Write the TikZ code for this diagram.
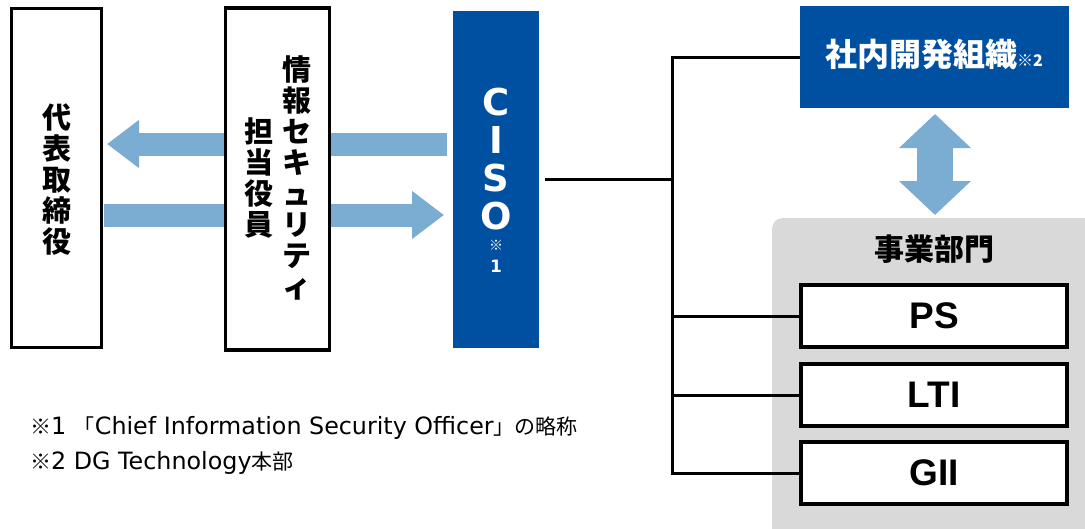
\documentclass[tikz,border=0pt]{standalone}
\usepackage{fontspec}
\setmainfont{Liberation Sans}
\newfontfamily\jp{Noto Sans CJK JP}
\newfontfamily\dv{DejaVu Sans}
\usetikzlibrary{arrows.meta}
\definecolor{cisoblue}{RGB}{0,80,162}
\definecolor{arrowblue}{RGB}{123,173,211}
\definecolor{graybg}{RGB}{217,217,217}
\newcommand\jpn[1]{{\jp\fontsize{21}{24}\selectfont #1}}
\begin{document}
\begin{tikzpicture}[x=1pt,y=-1pt,
  wbox/.style={draw=black,line width=3.2pt,fill=white,inner sep=0pt},
  bbox/.style={fill=cisoblue,inner sep=0pt},
  vtext/.style={align=center,inner sep=0pt,font=\jp\bfseries\fontsize{29}{31}\selectfont},
  bigarrow/.style={arrowblue,line width=23pt},
  conn/.style={draw=black,line width=3pt},
  bizlabel/.style={font=\bfseries\fontsize{37}{40}\selectfont},
  note/.style={anchor=west,inner sep=0pt,font=\dv\fontsize{23.8}{26}\selectfont}]
\useasboundingbox (0,0) rectangle (1085,528);

% blue arrows between left boxes (drawn first, behind middle box)
\coordinate (la-s) at (447,144);
\coordinate (la-e) at (107,144);
\coordinate (ra-s) at (104,215);
\coordinate (ra-e) at (444,215);
\draw[bigarrow,-{Triangle[length=32pt,width=46pt]}] (la-s) -- (la-e);
\draw[bigarrow,-{Triangle[length=32pt,width=46pt]}] (ra-s) -- (ra-e);

% left boxes
\node[wbox,minimum width=90pt,minimum height=339pt] (ceo) at (56.5,178) {};
\node[vtext] (ceot) at (57,180) {代\\表\\取\\締\\役};
\node[wbox,minimum width=104pt,minimum height=342pt] (officer) at (277.5,179) {};
\node[vtext] (offr) at (297,178) {情\\報\\セ\\キ\\ュ\\リ\\テ\\ィ};
\node[vtext] (offl) at (259,178) {担\\当\\役\\員};

% CISO
\node[bbox,minimum width=86pt,minimum height=337pt] (ciso) at (496,179) {};
\node[align=center,inner sep=0pt,text=white,font=\dv\bfseries\fontsize{37}{37.7}\selectfont] (cisot) at (496,159) {C\\I\\S\\O};
\node[inner sep=0pt,text=white,font=\jp\fontsize{14}{15}\selectfont] (cisomark) at (496,245) {※};
\node[inner sep=0pt,text=white,font=\dv\bfseries\fontsize{17}{18}\selectfont] (cisonum) at (496,266) {1};

% internal dev org
\node[bbox,minimum width=269pt,minimum height=102pt] (dev) at (934.5,57) {};
\node[inner sep=0pt,text=white,font=\jp\bfseries\fontsize{32}{34}\selectfont] (devt) at (934,54) {社内開発組織{\fontsize{16}{18}\selectfont ※2}};

% business divisions
\node[fill=graybg,rounded corners=10pt,minimum width=330pt,minimum height=330pt,anchor=north west,inner sep=0pt] (biz) at (772,218) {};
\node[inner sep=0pt,font=\jp\bfseries\fontsize{30}{32}\selectfont] (bizt) at (934,249) {事業部門};
\node[wbox,minimum width=266pt,minimum height=62pt] (ps) at (934,316) {};
\node[bizlabel] at (ps) {PS};
\node[wbox,minimum width=266pt,minimum height=62pt] (lti) at (934,395) {};
\node[bizlabel] at (lti) {LTI};
\node[wbox,minimum width=266pt,minimum height=62pt] (gii) at (934,473) {};
\node[bizlabel] at (gii) {GII};

% double arrow
\coordinate (da-t) at (935,114);
\coordinate (da-b) at (935,215);
\draw[arrowblue,line width=36pt,{Triangle[length=34pt,width=70pt]}-{Triangle[length=34pt,width=70pt]}] (da-t) -- (da-b);

% connectors
\coordinate (trunk) at (672,178);
\draw[conn] ([xshift=6pt]ciso.east) -- (ciso.east -| trunk);
\draw[conn] (dev.west) -| (gii.west -| trunk) -- (gii.west);
\draw[conn] (ps.west -| trunk) -- (ps.west);
\draw[conn] (lti.west -| trunk) -- (lti.west);

% footnotes
\node[note] (fn1) at (30,427.5) {\jpn{※}1 \jpn{「}Chief Information Security Officer\jpn{」の略称}};
\node[note] (fn2) at (30,462.5) {\jpn{※}2 DG Technology\jpn{本部}};
\end{tikzpicture}
\end{document}
